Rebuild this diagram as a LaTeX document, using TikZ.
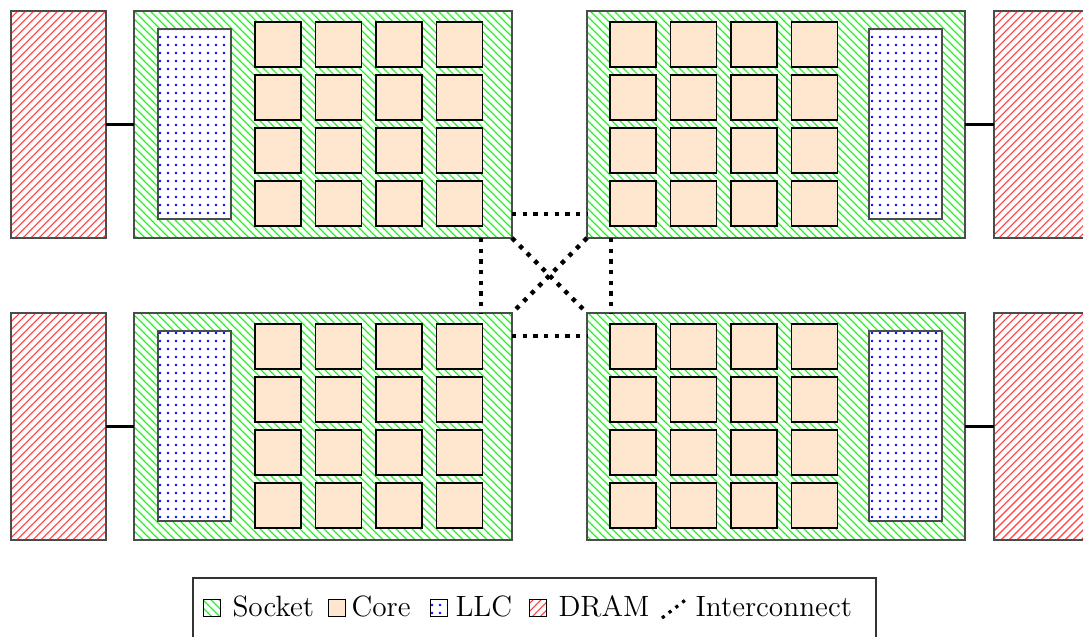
\documentclass[tikz,border=0pt]{standalone}
\usetikzlibrary{patterns,calc}
\definecolor{corefill}{RGB}{255,230,206}
\tikzset{
  box/.style={draw=black!70, line width=0.4pt, inner sep=0pt, outer sep=0pt, anchor=north west},
  socketpat/.style={pattern=north west lines, pattern color=green},
  drampat/.style={pattern=north east lines, pattern color=red!75},
  llcpat/.style={preaction={fill=white}, pattern=dots, pattern color=blue},
  socket/.style={box, socketpat,
    minimum width=378*0.375pt, minimum height=227*0.375pt},
  dram/.style={box, drampat,
    minimum width=95*0.375pt, minimum height=227*0.375pt},
  llc/.style={box, llcpat,
    minimum width=73*0.375pt, minimum height=190*0.375pt},
  core/.style={draw=black, line width=0.4pt, fill=corefill, inner sep=0pt, outer sep=0pt, anchor=north west,
    minimum width=46*0.375pt, minimum height=45*0.375pt},
  memlink/.style={line width=0.8pt, black},
  icx/.style={line width=1.6pt, dash pattern=on 1.6pt off 2.4pt, black},
  legsq/.style={draw=black, line width=0.4pt, inner sep=0pt, anchor=north west,
    minimum width=17*0.375pt, minimum height=17*0.375pt},
  legtext/.style={anchor=base west, inner sep=0pt, font=\fontsize{11}{13}\selectfont},
}
\begin{document}
\begin{tikzpicture}[x=0.375pt, y=-0.375pt]
\clip (0,0) rectangle (1083,637);
% sockets
\node[socket] (s1) at (134,11) {};
\node[socket] (s2) at (587,11) {};
\node[socket] (s3) at (134,313) {};
\node[socket] (s4) at (587,313) {};
% DRAM
\node[dram] (d1) at (11,11) {};
\node[dram] (d2) at (994,11) {};
\node[dram] (d3) at (11,313) {};
\node[dram] (d4) at (994,313) {};
% LLC
\node[llc] (c1) at (158,29) {};
\node[llc] (c2) at (869,29) {};
\node[llc] (c3) at (158,331) {};
\node[llc] (c4) at (869,331) {};
% cores
\foreach \sx/\sy/\s in {255/22/a, 610/22/b, 255/324/c, 610/324/d}{
  \foreach \i in {0,1,2,3}{
    \foreach \j in {0,1,2,3}{
      \node[core] (core-\s-\i-\j) at ({\sx+60.5*\i},{\sy+53*\j}) {};
    }
  }
}
% memory links
\draw[memlink] (d1.east) -- (s1.west);
\draw[memlink] (s2.east) -- (d2.west);
\draw[memlink] (d3.east) -- (s3.west);
\draw[memlink] (s4.east) -- (d4.west);
% interconnect
\draw[icx] ($(s1.south east)+(0,-24)$) -- ($(s2.south west)+(0,-24)$);
\draw[icx] ($(s3.north east)+(0,23)$) -- ($(s4.north west)+(0,23)$);
\draw[icx] ($(s1.south east)+(-31,0)$) -- ($(s3.north east)+(-31,0)$);
\draw[icx] ($(s2.south west)+(24,0)$) -- ($(s4.north west)+(24,0)$);
\draw[icx] (s1.south east) -- (s4.north west);
\draw[icx] (s2.south west) -- (s3.north east);
% legend
\draw[line width=0.4pt, black!80] (193,645) -- (193,578) -- (876,578) -- (876,645);
\node[legsq, socketpat] (lq1) at (203,599) {};
\node[legtext] (lt1) at (232,617) {Socket};
\node[legsq, fill=corefill] (lq2) at (328,599) {};
\node[legtext] (lt2) at (351,617) {Core};
\node[legsq, llcpat] (lq3) at (430,599) {};
\node[legtext] (lt3) at (455,617) {LLC};
\node[legsq, drampat] (lq4) at (529,599) {};
\node[legtext] (lt4) at (558,617) {DRAM};
\coordinate (li1) at (662,618);
\coordinate (li2) at (688,598);
\draw[icx, line width=1.2pt, dash pattern=on 1.2pt off 2pt] (li1) -- (li2);
\node[legtext] (lt5) at (695,617) {Interconnect};
\end{tikzpicture}
\end{document}
